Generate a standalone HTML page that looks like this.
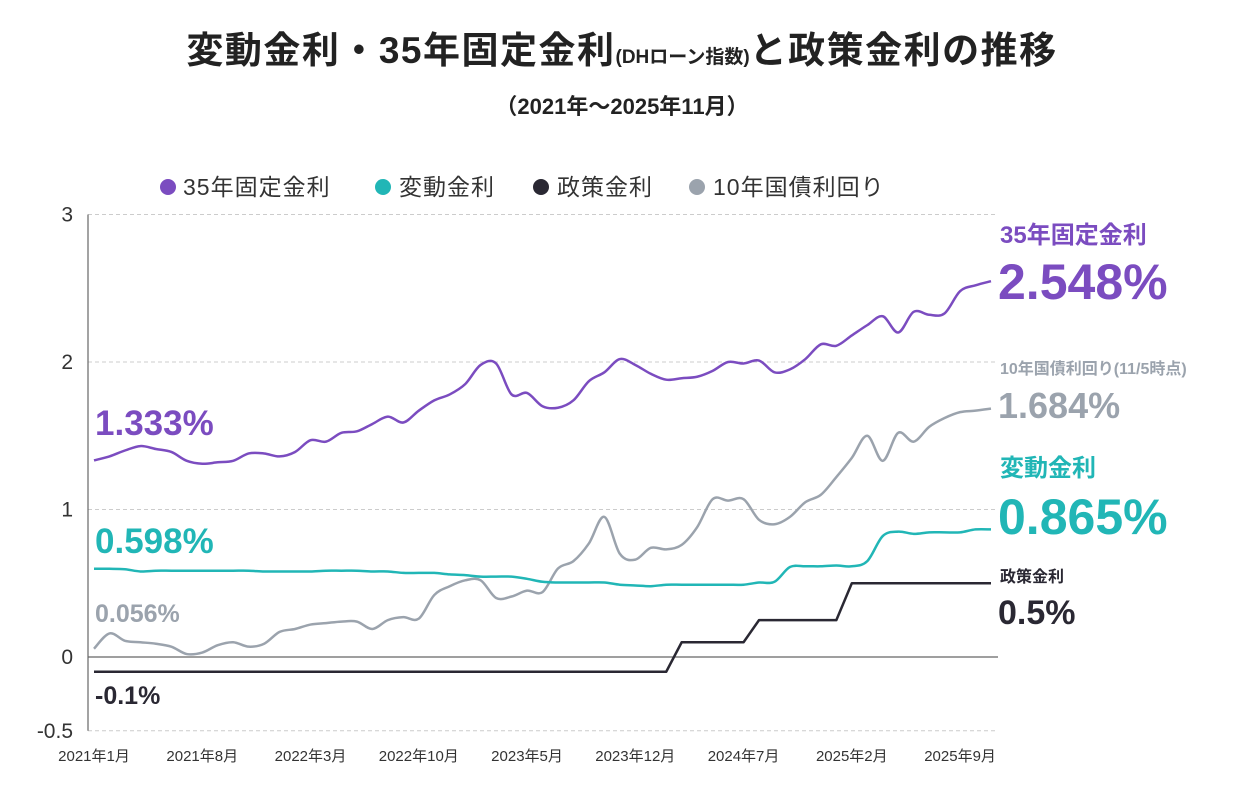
<!DOCTYPE html>
<html><head><meta charset="utf-8"><style>
body{margin:0;background:#fff;width:1253px;height:801px;overflow:hidden}
svg text{font-family:"Liberation Sans","Noto Sans CJK JP",sans-serif}
</style></head><body>
<svg width="1253" height="801" id="c">
<text x="622" y="63" text-anchor="middle" font-size="37" font-weight="bold" fill="#222" letter-spacing="1.5">変動金利・35年固定金利<tspan font-size="19" letter-spacing="0">(DHローン指数)</tspan>と政策金利の推移</text>
<text x="622" y="114" text-anchor="middle" font-size="22" font-weight="bold" fill="#222">（2021年～2025年11月）</text>
<g font-size="23" fill="#333" letter-spacing="1">
<circle cx="168" cy="187" r="8" fill="#7B4CC0"/><text x="183" y="195">35年固定金利</text>
<circle cx="383" cy="187" r="8" fill="#21B6B6"/><text x="399" y="195">変動金利</text>
<circle cx="541" cy="187" r="8" fill="#2A2833"/><text x="557" y="195">政策金利</text>
<circle cx="697" cy="187" r="8" fill="#9BA3AD"/><text x="713" y="195">10年国債利回り</text>
</g>
<g id="axes"></g>
<g id="series"></g>
<g font-weight="bold">
<text x="1000" y="243" font-size="24" fill="#7B4CC0">35年固定金利</text>
<text x="998" y="299" font-size="50" fill="#7B4CC0">2.548%</text>
<text x="1000" y="374" font-size="16" fill="#9BA3AD">10年国債利回り(11/5時点)</text>
<text x="998" y="418" font-size="36" fill="#9BA3AD">1.684%</text>
<text x="1000" y="476" font-size="24" fill="#21B6B6">変動金利</text>
<text x="998" y="534" font-size="50" fill="#21B6B6">0.865%</text>
<text x="1000" y="582" font-size="16" fill="#2A2833">政策金利</text>
<text x="998" y="624" font-size="34" fill="#2A2833">0.5%</text>
</g>
<g font-weight="bold">
<text x="95" y="435" font-size="35" fill="#7B4CC0">1.333%</text>
<text x="95" y="553" font-size="35" fill="#21B6B6">0.598%</text>
<text x="95" y="622" font-size="25" fill="#9BA3AD">0.056%</text>
<text x="95" y="704" font-size="25" fill="#2A2833">-0.1%</text>
</g>
</svg>
<script>
const yTicks=[3,2,1,0,-0.5];
const xTickLabels=["2021年1月","2021年8月","2022年3月","2022年10月","2023年5月","2023年12月","2024年7月","2025年2月","2025年9月"];
const fixed35=[1.333,1.36,1.40,1.43,1.41,1.39,1.33,1.31,1.32,1.33,1.38,1.38,1.36,1.39,1.47,1.46,1.52,1.53,1.58,1.63,1.59,1.67,1.74,1.78,1.85,1.98,1.99,1.78,1.79,1.70,1.69,1.74,1.87,1.93,2.02,1.98,1.92,1.88,1.89,1.90,1.94,2.00,1.99,2.01,1.93,1.95,2.02,2.12,2.11,2.18,2.25,2.31,2.20,2.34,2.32,2.33,2.48,2.52,2.548];
const variable=[0.598,0.598,0.595,0.58,0.585,0.585,0.585,0.585,0.585,0.585,0.585,0.58,0.58,0.58,0.58,0.585,0.585,0.585,0.58,0.58,0.57,0.57,0.57,0.56,0.555,0.545,0.545,0.545,0.53,0.51,0.505,0.505,0.505,0.505,0.49,0.485,0.48,0.49,0.49,0.49,0.49,0.49,0.49,0.505,0.51,0.61,0.615,0.615,0.62,0.615,0.65,0.82,0.85,0.835,0.845,0.845,0.845,0.865,0.865];
const policy=[-0.1,-0.1,-0.1,-0.1,-0.1,-0.1,-0.1,-0.1,-0.1,-0.1,-0.1,-0.1,-0.1,-0.1,-0.1,-0.1,-0.1,-0.1,-0.1,-0.1,-0.1,-0.1,-0.1,-0.1,-0.1,-0.1,-0.1,-0.1,-0.1,-0.1,-0.1,-0.1,-0.1,-0.1,-0.1,-0.1,-0.1,-0.1,0.1,0.1,0.1,0.1,0.1,0.25,0.25,0.25,0.25,0.25,0.25,0.5,0.5,0.5,0.5,0.5,0.5,0.5,0.5,0.5,0.5];
const jgb10=[0.056,0.16,0.11,0.10,0.09,0.07,0.02,0.03,0.08,0.10,0.07,0.09,0.17,0.19,0.22,0.23,0.24,0.24,0.19,0.25,0.27,0.26,0.42,0.48,0.52,0.52,0.40,0.41,0.45,0.44,0.60,0.65,0.77,0.95,0.70,0.66,0.74,0.73,0.76,0.88,1.07,1.06,1.07,0.93,0.90,0.95,1.05,1.10,1.22,1.35,1.50,1.33,1.52,1.46,1.56,1.62,1.66,1.67,1.684];
const NS="http://www.w3.org/2000/svg";
const X=i=>94+i*(897/58);
const Y=v=>657-v*147.5;
function mk(t,a,p){const e=document.createElementNS(NS,t);for(const k in a)e.setAttribute(k,a[k]);p.appendChild(e);return e;}
const ax=document.getElementById('axes');
yTicks.forEach(v=>{
  const l=mk('line',{x1:88,x2:998,y1:Y(v),y2:Y(v),stroke:v===0?'#666':'#ccc','stroke-width':v===0?1.2:1,'stroke-dasharray':v===0?'none':'4 3'},ax);
  
  
  const t=mk('text',{x:73,y:Y(v)+7,'text-anchor':'end','font-size':21,fill:'#333'},ax);
  t.textContent=v;
  
  
});
const yl=mk('line',{x1:88,x2:88,y1:Y(3),y2:Y(-0.5),stroke:'#666','stroke-width':1.2},ax);


xTickLabels.forEach((s,k)=>{
  const t=mk('text',{x:X(k*7),y:761,'text-anchor':'middle','font-size':15,fill:'#333'},ax);
  t.textContent=s;
  
  
});
function smooth(arr){
  const p=arr.map((v,i)=>[X(i),Y(v)]);let d='M'+p[0];
  for(let i=0;i<p.length-1;i++){
    const p0=p[Math.max(0,i-1)],p1=p[i],p2=p[i+1],p3=p[Math.min(p.length-1,i+2)];
    const c1=[p1[0]+(p2[0]-p0[0])/6,p1[1]+(p2[1]-p0[1])/6],c2=[p2[0]-(p3[0]-p1[0])/6,p2[1]-(p3[1]-p1[1])/6];
    d+='C'+c1+' '+c2+' '+p2;
  }return d;
}
const sg=document.getElementById('series');
[[jgb10,'#9BA3AD','jgb10-line',true],[policy,'#2A2833','policy-rate-line',false],[variable,'#21B6B6','variable-rate-line',true],[fixed35,'#7B4CC0','fixed35-line',true]].forEach(([a,c,n,s])=>{
  const d=s?smooth(a):'M'+a.map((v,i)=>X(i)+','+Y(v)).join('L');
  const p=mk('path',{d:d,fill:'none',stroke:c,'stroke-width':2.5,'stroke-linejoin':'round'},sg);
  
  
});
</script>
</body></html>
